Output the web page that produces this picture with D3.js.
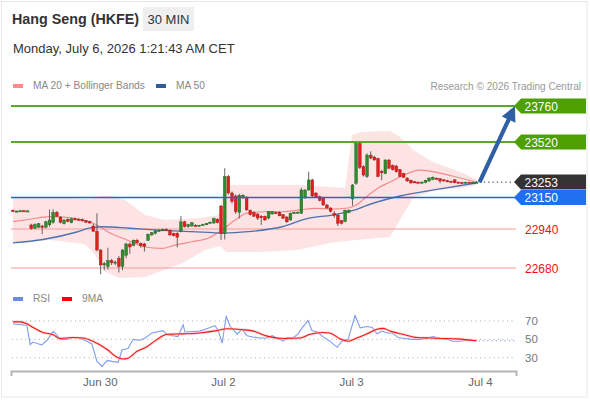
<!DOCTYPE html>
<html><head><meta charset="utf-8">
<script src="https://cdn.jsdelivr.net/npm/d3@7"></script>
<style>body{margin:0;background:#fff;font-family:"Liberation Sans",Arial,sans-serif}</style>
</head><body><svg id="c" width="590" height="400"></svg>
<script>
// ---- candles (30 min) ----
const opens=[23063,23058,23060,23062,23059,22967,22945,22952,22960,22952,22968,22985,23050,23020,22975,23005,22982,23008,23005,23002,22995,22990,22960,22925,22800,22700,22690,22730,22715,22745,22690,22765,22840,22830,22865,22845,22840,22865,22900,22910,22928,22930,22938,22930,22910,22912,22925,22988,22955,22960,22965,22962,22965,22968,22980,22980,23005,23093,22910,23290,23180,23160,23050,23150,23152,23065,23050,23040,23025,23025,23013,23040,23050,23052,23035,23020,23000,23045,23050,23045,23150,23200,23267,23180,23155,23145,23100,23080,23045,23033,22995,22990,23050,23140,23245,23510,23355,23290,23433,23420,23410,23325,23310,23400,23365,23360,23335,23310,23280,23265,23255,23252,23250,23250,23260,23270,23278,23275,23268,23262,23258,23268,23252,23250,23248,23252,23250,23252];
const highs=[23072,23062,23064,23064,23063,22975,22978,22980,22968,22995,23070,23072,23060,23025,23005,23012,23015,23015,23012,23010,23000,22995,22975,23045,22805,22720,22815,22740,22730,22760,22805,22850,22850,22870,22875,22850,22848,22910,22920,22935,22940,22942,22945,22938,22915,22918,23027,22995,22975,22985,22972,22968,22975,22980,22990,23015,23012,23100,23345,23300,23190,23170,23175,23172,23160,23070,23058,23045,23033,23030,23060,23060,23058,23058,23040,23025,23050,23055,23058,23215,23205,23322,23275,23185,23162,23150,23108,23085,23060,23040,23000,23070,23072,23240,23525,23522,23365,23445,23458,23428,23415,23335,23405,23405,23370,23368,23340,23315,23285,23270,23260,23258,23256,23268,23285,23290,23285,23280,23272,23268,23262,23272,23258,23255,23256,23256,23255,23258];
const lows=[23052,23055,23057,23058,23056,22935,22940,22948,22905,22945,22955,22975,23020,22978,22970,22985,22978,23000,22995,22990,22980,22975,22920,22790,22638,22665,22670,22700,22700,22650,22665,22745,22775,22825,22840,22815,22790,22860,22895,22905,22920,22925,22930,22895,22890,22818,22918,22950,22948,22955,22955,22958,22960,22965,22975,22975,22978,22867,22870,23170,23110,23040,23010,23140,23060,23030,23020,23000,22967,22995,23005,23035,23040,23025,23008,22980,22995,23040,23045,23040,23140,23195,23150,23145,23125,23095,23075,23050,23015,22960,22970,22985,23045,23095,23235,23340,23290,23280,23405,23395,23285,23265,23305,23340,23330,23315,23285,23280,23255,23242,23248,23245,23245,23245,23255,23265,23270,23245,23255,23252,23250,23245,23245,23242,23244,23246,23245,23248];
const closes=[23058,23060,23062,23059,23061,22942,22970,22975,22950,22988,23000,23050,23025,22985,23000,22990,23008,23005,23002,22995,22985,22980,22925,22800,22700,22710,22730,22715,22720,22690,22800,22840,22820,22865,22848,22828,22825,22905,22915,22928,22932,22938,22936,22900,22895,22885,22988,22955,22970,22982,22960,22965,22970,22978,22985,23010,22982,22910,23290,23180,23125,23055,23165,23165,23068,23035,23025,23013,23015,23000,23055,23055,23048,23028,23012,22988,23045,23050,23052,23200,23200,23267,23160,23150,23130,23100,23080,23058,23030,22978,22978,23065,23065,23233,23510,23350,23300,23433,23413,23400,23290,23315,23400,23345,23335,23322,23290,23285,23260,23247,23252,23250,23253,23265,23280,23285,23275,23260,23260,23258,23255,23248,23250,23246,23252,23250,23252,23253];

// ---- indicators (index, value) ----
const ma20Idx=[0,4.7,10.1,14.8,19.2,23,26.6,31.2,36.2,40.8,44.4,49,53.4,57.3,60.8,64.4,69,73.7,78.6,82.7,87.4,91.8,94.5,96.4,100.5,103.3,106,111.5,117,122.5,127];
const ma20Val=[22989,23005,23022,23018,23000,22967,22913,22867,22820,22811,22833,22855,22878,22933,23000,23047,23055,23055,23067,23078,23073,23080,23107,23147,23220,23253,23287,23333,23313,23280,23253];
const ma50Idx=[0,8.2,17.5,21.1,24.7,32,39.7,49,58,64.4,73.7,80.8,87.4,93.7,96.4,106,117,127];
const ma50Val=[22847,22870,22920,22947,22955,22945,22933,22922,22913,22922,22955,23011,23033,23067,23093,23160,23207,23247];
const upperIdx=[0,10.1,21.1,23.8,27.1,30.7,36.2,41.6,51.2,56.2,57.5,58.9,67.7,79.2,91,92.9,95.1,103.3,106,109.6,115,123.3,127];
const upperVal=[23147,23153,23140,23160,23160,23133,23033,23000,23013,23033,23167,23233,23233,23233,23213,23567,23587,23593,23553,23467,23387,23313,23267];
const lowerIdx=[0,10.1,19.7,22.5,25.2,29.3,36.2,41.6,47.1,52.6,56.7,58.4,67.7,78,86.8,93.7,103.3,106,109.6,115,122.5,127];
const lowerVal=[22847,22867,22840,22767,22653,22613,22620,22667,22720,22800,22827,22787,22787,22800,22847,22867,22887,23000,23147,23193,23213,23233];

const rsiIdx=[0,3.8,4.7,5.5,6.6,7.9,9.3,11,12,12.9,14.8,16.2,17.8,20.3,21.6,23,24.4,25.8,27.1,28.8,29.9,31.5,32.9,34.8,36.2,38.1,41.1,42.2,45.2,46.6,47.1,49.3,51.2,52.6,54,55.3,56.2,57.3,58.4,59.5,61.4,62.7,64.1,65.8,67.7,69.6,71,72.3,74,75.3,76.7,78.1,79.2,80.8,81.9,83.3,84.9,86.8,88.8,90.1,91.8,93.7,95.1,97,98.4,99.7,101.1,102.5,103.8,105.5,107.4,109.3,111.5,113.4,115.1,117,118.9,120.5,122.5,124.4,127];
const rsiVal=[66.8,65.3,44.2,47,45.5,44,49,58.7,55,50,50,52,52,48,45,26,20.5,27,26,25,38.7,40,50,49,51.5,57,59.5,55,53,66,58,58.5,59,61,63,65,60,46,75,64,55.7,61,54,52.5,51.5,51.5,54,51.5,48,52,51.5,56,62.5,70.4,59.6,58,53,48,41.3,48,50,76,62.5,64,63,56,59,57,57,52,51,50,50,51.5,53,51,50,48,48,49,48.5];
const maRsiIdx=[0,1.9,3.8,5.5,8.2,11,12.9,16.4,19.2,21.9,25.8,28.5,30.1,31.5,34,36.7,39.5,42.2,46.6,51.2,55.9,58.6,63,65.8,69.6,74,78.6,81.4,84.9,86.8,89.6,91.8,94.2,97,99.7,101.4,103.3,106.8,110.7,114.2,117.8,121.6,127];
const maRsiVal=[69,69,67,63,57.5,55,51,52,51.5,48,39,30.5,28.6,29.5,37,42,50,55.5,56,57,59.5,61.5,60.5,59,53.5,51,51.5,55.5,57.5,57,50.5,48,51.5,56,61,62,59,55.5,52,51.5,51,50.5,48.5];

const tickIdx=[23.8,57.5,92.6,127.9];
const tickLabels=["Jun 30","Jul 2","Jul 3","Jul 4"];
const rsiTicks=[70,50,30];

const levelVals=[23760,23520,23253,23150,22940,22680];
const levelKinds=["res","res","last","pivot","sup","sup"];
const targetIdx=137.5, targetVal=23760;

// ---- drawing ----
const svg=d3.select("#c");
const x=d3.scaleLinear().domain([0,127]).range([13,476.6]);
const y=d3.scaleLinear().domain([22680,23760]).range([268,106]);
const ry=d3.scaleLinear().domain([30,70]).range([357.7,321]);
const font='"Liberation Sans",Arial,sans-serif';

svg.append("rect").attr("x",1.5).attr("y",1.5).attr("width",585.5).attr("height",395.5)
  .attr("fill","#fff").attr("stroke","#e8e8e8");

// header
svg.append("text").attr("x",12).attr("y",24).text("Hang Seng (HKFE)")
  .attr("font-family",font).attr("font-size",14.3).attr("font-weight","bold").attr("fill","#333");
svg.append("rect").attr("x",143).attr("y",7).attr("width",51).attr("height",24).attr("fill","#efefef");
svg.append("text").attr("x",168.5).attr("y",24).attr("text-anchor","middle").text("30 MIN")
  .attr("font-family",font).attr("font-size",13).attr("fill","#333");
svg.append("text").attr("x",13).attr("y",53).text("Monday, July 6, 2026 1:21:43 AM CET")
  .attr("font-family",font).attr("font-size",13).attr("fill","#333");

// legends
function legend(lx,ly,col,label){
  svg.append("rect").attr("x",lx).attr("y",ly-3).attr("width",10).attr("height",4).attr("fill",col);
  svg.append("text").attr("x",lx+20).attr("y",ly+2).text(label)
    .attr("font-family",font).attr("font-size",10.2).attr("fill","#888");
}
legend(13,87,"#ff8a8a","MA 20 + Bollinger Bands");
legend(156,87,"#2f5c9a","MA 50");
svg.append("text").attr("x",581).attr("y",90).attr("text-anchor","end").text("Research \u00a9 2026 Trading Central")
  .attr("font-family",font).attr("font-size",10.1).attr("fill","#999");
legend(13,300,"#6a8ee8","RSI");
legend(62,300,"#ff0000","9MA");

// bollinger band fill
const bandPts=upperIdx.map((d,i)=>[x(d),y(upperVal[i])])
  .concat(lowerIdx.map((d,i)=>[x(d),y(lowerVal[i])]).reverse());
svg.append("path").attr("d",d3.line().curve(d3.curveLinearClosed)(bandPts))
  .attr("fill","#fde3e3").attr("stroke","none");

// support lines (light red)
levelVals.forEach((v,i)=>{
  if(levelKinds[i]==="sup"){
    svg.append("line").attr("x1",11).attr("x2",516).attr("y1",y(v)).attr("y2",y(v))
      .attr("stroke","#f59a9a").attr("stroke-width",1.2);
  }
});

// MA lines
const ln=d3.line().curve(d3.curveMonotoneX);
svg.append("path").attr("d",ln(ma20Idx.map((d,i)=>[x(d),y(ma20Val[i])])))
  .attr("fill","none").attr("stroke","#f48a8a").attr("stroke-width",1.2);
svg.append("path").attr("d",ln(ma50Idx.map((d,i)=>[x(d),y(ma50Val[i])])))
  .attr("fill","none").attr("stroke","#4d72b0").attr("stroke-width",1.3);

// candles
const g=svg.append("g");
opens.forEach((o,i)=>{
  const c=closes[i], up=c>=o, cx=x(i);
  g.append("line").attr("x1",cx).attr("x2",cx).attr("y1",y(highs[i])).attr("y2",y(lows[i]))
    .attr("stroke","#555").attr("stroke-width",0.9);
  const top=y(Math.max(o,c)), bot=y(Math.min(o,c));
  g.append("rect").attr("x",cx-1.4).attr("width",2.8).attr("y",top).attr("height",Math.max(1.2,bot-top))
    .attr("fill",up?"#2e8b2e":"#e31e1e").attr("stroke",up?"#1f5f1f":"#a81414").attr("stroke-width",0.4);
});

// resistance & pivot lines
levelVals.forEach((v,i)=>{
  const k=levelKinds[i];
  if(k==="res") svg.append("line").attr("x1",11).attr("x2",515).attr("y1",y(v)).attr("y2",y(v))
      .attr("stroke","#5aa829").attr("stroke-width",2);
  if(k==="pivot") svg.append("line").attr("x1",11).attr("x2",515).attr("y1",y(v)).attr("y2",y(v))
      .attr("stroke","#1f63e6").attr("stroke-width",1.4);
  if(k==="last") svg.append("line").attr("x1",x(127)+3).attr("x2",514).attr("y1",y(v)).attr("y2",y(v))
      .attr("stroke","#555").attr("stroke-width",1.3).attr("stroke-dasharray","1.3,3");
});

// arrow
const ax0=x(127)+3, ay0=y(closes[127]), ax1=x(targetIdx), ay1=y(targetVal);
const ang=Math.atan2(ay1-ay0,ax1-ax0);
const headLen=15, headW=7.5;
const bx=ax1-headLen*Math.cos(ang), by=ay1-headLen*Math.sin(ang);
svg.append("line").attr("x1",ax0).attr("y1",ay0).attr("x2",bx+2*Math.cos(ang)).attr("y2",by+2*Math.sin(ang))
  .attr("stroke","#2f60a3").attr("stroke-width",4.2);
const px=-Math.sin(ang), py=Math.cos(ang);
svg.append("path").attr("d",`M${ax1},${ay1}L${bx+px*headW},${by+py*headW}L${bx-px*headW},${by-py*headW}Z`)
  .attr("fill","#2f60a3");

// level labels
levelVals.forEach((v,i)=>{
  const k=levelKinds[i], cy=y(v);
  if(k==="sup"){
    svg.append("text").attr("x",525).attr("y",cy+4.5).text(v).attr("font-family",font)
      .attr("font-size",12).attr("fill","#ee1111");
    return;
  }
  const col=k==="res"?"#4ea000":(k==="last"?"#333333":"#1f6ff0");
  svg.append("path").attr("d",`M514,${cy}L521,${cy-7.5}L586,${cy-7.5}L586,${cy+7.5}L521,${cy+7.5}Z`).attr("fill",col);
  svg.append("text").attr("x",524.5).attr("y",cy+4.5).text(v).attr("font-family",font)
    .attr("font-size",12).attr("fill","#fff");
});

// RSI panel
rsiTicks.forEach(t=>{
  svg.append("line").attr("x1",12).attr("x2",515).attr("y1",ry(t)).attr("y2",ry(t))
    .attr("stroke","#aaa").attr("stroke-width",1).attr("stroke-dasharray","1,3.5");
  svg.append("text").attr("x",525).attr("y",ry(t)+4).text(t).attr("font-family",font)
    .attr("font-size",11.5).attr("fill","#777");
});
svg.append("path").attr("d",d3.line()(rsiIdx.map((d,i)=>[x(d),ry(rsiVal[i])])))
  .attr("fill","none").attr("stroke","#7d9cec").attr("stroke-width",1.1);
svg.append("line").attr("x1",x(127)+2).attr("x2",515).attr("y1",ry(rsiVal[rsiVal.length-1])).attr("y2",ry(rsiVal[rsiVal.length-1]))
  .attr("stroke","#7d9cec").attr("stroke-width",1.2).attr("stroke-dasharray","1.3,3");
svg.append("path").attr("d",d3.line().curve(d3.curveMonotoneX)(maRsiIdx.map((d,i)=>[x(d),ry(maRsiVal[i])])))
  .attr("fill","none").attr("stroke","#ffb4b4").attr("stroke-width",2.6).attr("opacity",0.6);
svg.append("path").attr("d",d3.line().curve(d3.curveMonotoneX)(maRsiIdx.map((d,i)=>[x(d),ry(maRsiVal[i])])))
  .attr("fill","none").attr("stroke","#f01818").attr("stroke-width",1.1);

// x axis
svg.append("path").attr("d","M11.5,376V371.5H516.5V376").attr("fill","none").attr("stroke","#b5b5b5").attr("stroke-width",2);
const axis=d3.axisBottom(x).tickValues(tickIdx).tickFormat((d,i)=>tickLabels[i]).tickSize(0).tickPadding(0);
const ag=svg.append("g").attr("transform","translate(0,378)").call(axis);
ag.select(".domain").remove();
ag.selectAll("text").attr("font-family",font).attr("font-size",11.5).attr("fill","#666").attr("dy","0.71em");
</script></body></html>
